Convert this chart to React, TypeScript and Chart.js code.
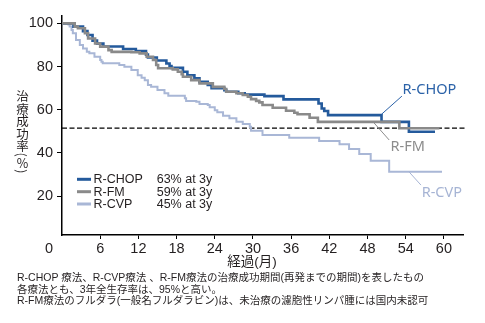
import React, { useEffect, useRef } from "react";
import { Chart, registerables } from "chart.js";

Chart.register(...registerables);

// ---- data (months, treatment success %) ----
const rchopMonths = [0, 1.8, 3.3, 4.0, 4.8, 5.5, 6.5, 9.6, 11.6, 13.2, 13.5, 14.9, 16.4, 16.9, 17.2, 19.0, 19.7, 20.8, 21.6, 22.9, 23.5, 25.5, 25.8, 27.7, 28.7, 31.8, 34.8, 40.3, 40.8, 41.2, 41.8, 50.2, 54.5, 58.6];
const rchopValues = [100, 98.5, 96.4, 94.6, 92, 90.6, 89.3, 88.1, 87.2, 85.5, 84.2, 82.8, 81.4, 80.2, 79.4, 77.6, 76, 74.5, 72.9, 71.5, 70, 69.1, 68.3, 67.6, 67, 66.3, 64.8, 62.9, 60.6, 59.4, 57.5, 54.4, 49.8, 49.8];

const rfmMonths = [0, 2.0, 2.5, 3.6, 4.1, 5.2, 6.0, 7.3, 7.8, 10.9, 12.2, 13.3, 14.3, 14.8, 15.1, 17.4, 18.2, 18.8, 19.0, 20.3, 21.6, 23.7, 25.5, 25.8, 27.4, 28.4, 29.2, 29.7, 30.5, 31.0, 31.5, 33.1, 35.2, 36.5, 37.0, 38.9, 40.2, 53.0, 59.3];
const rfmValues = [100, 98.5, 97.7, 95.4, 93, 90.7, 89.2, 87.6, 86.8, 86.6, 86.1, 84.5, 83, 80.7, 79.2, 78.7, 77.6, 76.4, 75.3, 73.7, 72.2, 70.6, 69.6, 68.3, 67.6, 66.8, 66, 64.9, 64.1, 63.4, 62.2, 60.9, 59.5, 58.6, 57.9, 56.3, 54.4, 51.4, 51.4];

const rcvpMonths = [0, 1.0, 1.2, 1.5, 1.7, 2.2, 2.8, 3.3, 3.9, 4.3, 5.1, 6.0, 6.2, 6.4, 9.0, 9.8, 10.9, 11.9, 12.5, 13.0, 13.5, 14.0, 15.0, 16.1, 16.7, 19.3, 19.5, 21.1, 21.6, 22.9, 23.2, 24.0, 24.4, 25.3, 26.3, 27.4, 28.4, 29.5, 29.7, 31.5, 35.7, 40.4, 43.6, 45.1, 46.7, 48.5, 51.4, 59.7];
const rcvpValues = [100, 99.5, 98.5, 96.9, 95.4, 92.3, 90, 88.4, 86.8, 86.1, 84.5, 83, 82.2, 81.5, 80.7, 79.9, 78.4, 76, 74.8, 73.7, 71.4, 70.6, 69.1, 67.6, 66.5, 65.3, 64.1, 63.7, 62.6, 62.2, 61.1, 59.8, 58.8, 57.2, 56, 54.4, 53.4, 52.1, 50.3, 48.3, 47, 45.5, 44, 41.8, 39.5, 36.4, 31.3, 31.3];

const medianLineMonths = [0, 63.4];
const medianLineValues = [51.5, 51.5];

const seriesNames = ["R-CHOP", "R-FM", "R-CVP"];
const seriesStats = ["63% at 3y", "59% at 3y", "45% at 3y"];

const xTickValues = [6, 12, 18, 24, 30, 36, 42, 48, 54, 60];
const yTickValues = [20, 40, 60, 80, 100];

const yTitle = "治療成功率";
const xTitle = "経過(月)";
const notes = [
  "R-CHOP 療法、R-CVP療法 、R-FM療法の治療成功期間(再発までの期間)を表したもの",
  "各療法とも、3年全生存率は、95%と高い。",
  "R-FM療法のフルダラ(一般名フルダラビン)は、未治療の濾胞性リンパ腫には国内未認可",
];

// ---- styles ----
const COLORS = ["#245a9c", "#8a8a8a", "#a9b7d6"];
const LABEL_COLORS = ["#2b62a8", "#8c8c8c", "#a6b4d4"];
const TEXT = "#231f20";
const LATIN = '"Liberation Sans", Arial, sans-serif';
const CJK = '"Liberation Sans", "Noto Sans CJK JP", sans-serif';

// annotation placement (data coords): leader from -> to, label at
const annotations = [
  { from: [50.2, 57.9], to: [53.4, 66.3], at: [53.5, 69.1] },
  { from: [48.9, 54.3], to: [51.4, 46.0], at: [51.6, 42.7] },
  { from: [54.5, 31.3], to: [56.4, 25.1], at: [56.5, 21.6] },
];

const toPoints = (xs: number[], ys: number[]) => xs.map((x, i) => ({ x, y: ys[i] }));

const decorPlugin = {
  id: "decor",
  afterDatasetsDraw(chart: any) {
    const { ctx, chartArea, scales } = chart;
    const xs = scales.x;
    const ys = scales.y;
    ctx.save();
    // "0" corner label
    ctx.fillStyle = TEXT;
    ctx.font = `14.5px ${LATIN}`;
    ctx.textAlign = "center";
    ctx.textBaseline = "middle";
    ctx.fillText("0", chartArea.left - 13, chartArea.bottom + 14);

    // series labels with leader lines
    annotations.forEach((a, i) => {
      ctx.strokeStyle = LABEL_COLORS[i];
      ctx.lineWidth = 1;
      ctx.beginPath();
      ctx.moveTo(xs.getPixelForValue(a.from[0]), ys.getPixelForValue(a.from[1]));
      ctx.lineTo(xs.getPixelForValue(a.to[0]), ys.getPixelForValue(a.to[1]));
      ctx.stroke();
      ctx.fillStyle = LABEL_COLORS[i];
      ctx.font = `14.5px "Noto Sans", "Open Sans", sans-serif`;
      ctx.textAlign = "left";
      ctx.textBaseline = "middle";
      ctx.fillText(seriesNames[i], xs.getPixelForValue(a.at[0]), ys.getPixelForValue(a.at[1]));
    });

    // legend
    const rows = [-55.7, -43.3, -31];
    seriesNames.forEach((name, i) => {
      const y = chartArea.bottom + rows[i];
      ctx.strokeStyle = COLORS[i];
      ctx.lineWidth = 3;
      ctx.beginPath();
      ctx.moveTo(chartArea.left + 15, y);
      ctx.lineTo(chartArea.left + 29, y);
      ctx.stroke();
      ctx.fillStyle = TEXT;
      ctx.font = `12.5px ${LATIN}`;
      ctx.textAlign = "left";
      ctx.textBaseline = "middle";
      ctx.fillText(name, chartArea.left + 31.5, y + 0.5);
      ctx.fillText(seriesStats[i], chartArea.left + 94.7, y + 0.5);
    });
    ctx.restore();
  },
};

export default function App() {
  const canvasRef = useRef<HTMLCanvasElement | null>(null);

  useEffect(() => {
    if (!canvasRef.current) return;
    const chart = new Chart(canvasRef.current, {
      type: "line",
      data: {
        datasets: [
          {
            label: seriesNames[1],
            data: toPoints(rfmMonths, rfmValues),
            borderColor: COLORS[1],
            borderWidth: 2.6,
            stepped: true,
            pointRadius: 0,
            fill: false,
            order: 0,
          },
          {
            label: seriesNames[0],
            data: toPoints(rchopMonths, rchopValues),
            borderColor: COLORS[0],
            borderWidth: 2.6,
            stepped: true,
            pointRadius: 0,
            fill: false,
            order: 1,
          },
          {
            label: seriesNames[2],
            data: toPoints(rcvpMonths, rcvpValues),
            borderColor: COLORS[2],
            borderWidth: 2,
            stepped: true,
            pointRadius: 0,
            fill: false,
            order: 2,
          },
          {
            label: "median",
            data: toPoints(medianLineMonths, medianLineValues),
            borderColor: "#000",
            borderWidth: 1.3,
            borderDash: [5, 2.5],
            pointRadius: 0,
            fill: false,
            order: 3,
            clip: false as any,
          },
        ],
      },
      options: {
        animation: false,
        responsive: false,
        devicePixelRatio: 1,
        layout: { padding: { left: 0, top: 16, right: 22, bottom: 58 } },
        plugins: { legend: { display: false }, tooltip: { enabled: false } },
        scales: {
          x: {
            type: "linear",
            min: 0,
            max: 63,
            afterFit: (s: any) => {
              s.height = 30;
            },
            afterBuildTicks: (s: any) => {
              s.ticks = xTickValues.map((v) => ({ value: v }));
            },
            ticks: {
              font: { family: LATIN, size: 14.5 },
              color: TEXT,
              padding: 1,
              maxRotation: 0,
              autoSkip: false,
            },
            grid: { drawOnChartArea: false, drawTicks: true, tickLength: 4, color: "#000", lineWidth: 1 },
            border: { color: "#000", width: 1.5 },
          },
          y: {
            type: "linear",
            min: 2,
            max: 103.4,
            afterFit: (s: any) => {
              s.width = 62;
            },
            afterBuildTicks: (s: any) => {
              s.ticks = yTickValues.map((v) => ({ value: v }));
            },
            ticks: {
              font: { family: LATIN, size: 14.5 },
              color: TEXT,
              padding: 4,
              autoSkip: false,
            },
            grid: { drawOnChartArea: false, drawTicks: true, tickLength: 5, color: "#000", lineWidth: 1 },
            border: { color: "#000", width: 1.5 },
          },
        },
      },
      plugins: [decorPlugin],
    });
    return () => chart.destroy();
  }, []);

  return (
    <div
      style={{
        position: "fixed",
        left: 0,
        top: 0,
        width: 485,
        height: 323,
        background: "#fff",
        overflow: "hidden",
      }}
    >
      <canvas ref={canvasRef} width={485} height={323} style={{ display: "block", width: 485, height: 323 }} />
      <div
        style={{
          position: "absolute",
          left: 16,
          top: 90,
          writingMode: "vertical-rl",
          fontFamily: '"Noto Sans CJK JP", sans-serif',
          fontSize: 12.5,
          lineHeight: "13px",
          color: TEXT,
        }}
      >
        {yTitle}(<span style={{ textOrientation: "upright" }}>%</span>)
      </div>
      <div
        style={{
          position: "absolute",
          left: 202,
          top: 254,
          width: 100,
          textAlign: "center",
          fontFamily: CJK,
          fontSize: 13.5,
          lineHeight: "16px",
          color: TEXT,
        }}
      >
        {xTitle}
      </div>
      <div
        style={{
          position: "absolute",
          left: 17,
          top: 272,
          fontFamily: CJK,
          fontSize: 10.5,
          lineHeight: "11.7px",
          color: TEXT,
          whiteSpace: "nowrap",
        }}
      >
        {notes.map((n, i) => (
          <div key={i}>{n}</div>
        ))}
      </div>
    </div>
  );
}
